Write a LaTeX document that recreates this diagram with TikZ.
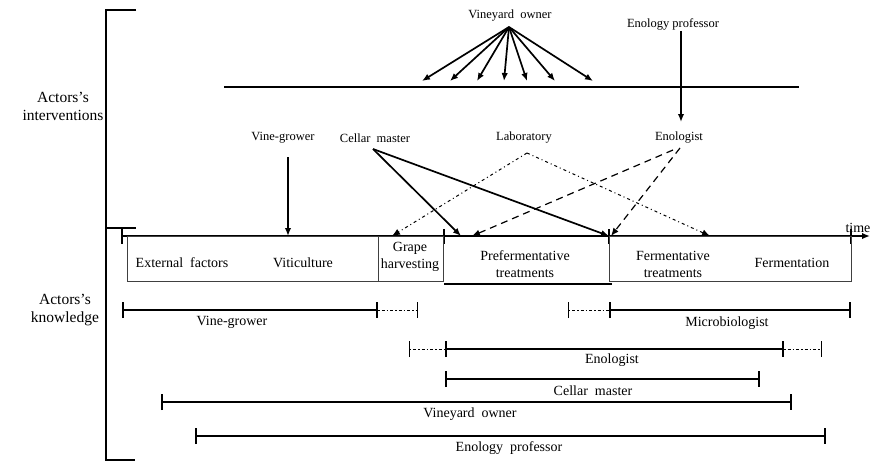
\documentclass[tikz,border=0pt]{standalone}
\usepackage{fontspec}
\setmainfont{Liberation Serif}
\usetikzlibrary{arrows.meta}
\begin{document}
\begin{tikzpicture}[x=1pt, y=-1pt, >={Latex[length=8pt,width=6.5pt]},
    actor/.style={font=\fontsize{12.5}{14}\selectfont, inner sep=1pt},
    phase/.style={font=\fontsize{14}{17}\selectfont, align=center, inner sep=0pt},
    side/.style={font=\fontsize{15.5}{18}\selectfont, align=center},
    bar/.style={line width=1.6pt, {Bar[width=16pt]}-{Bar[width=16pt]}},
    hint/.style={line width=0.9pt, dash pattern=on 1.5pt off 2pt on 3pt off 2pt},
    push/.style={line width=1.7pt, ->},
    labline/.style={line width=1pt, dash pattern=on 3pt off 3pt on 1pt off 3pt, ->},
    enoline/.style={line width=1.2pt, dash pattern=on 7pt off 5pt, ->}]
    \useasboundingbox (0,0) rectangle (879,461);
    \draw[line width=1.4pt]
        (136,10) -- (106,10) -- (106,460) -- (135,460)
        (106,228) -- (136,228);
    \node[side] (inter) at (63,106) {Actors’s\\interventions};
    \node[side] (know) at (65,310) {Actors’s\\knowledge};
    \draw[line width=1.6pt] (224,87) -- (799,87);
    \node[actor] (owner) at (510,16) {Vineyard\ \ owner};
    \coordinate (ownerFoot) at (509,27);
    \foreach \x [count=\i] in {422,450,477,504,527,555,593} {
        \coordinate (hit\i) at (\x,81);
        \draw[push] (ownerFoot) -- (hit\i);
    }
    \node[actor] (prof) at (673,24) {Enology professor};
    \node[actor] (grower) at (283,138) {Vine-grower};
    \node[actor] (cellar) at (375,138) {Cellar\ \ master};
    \node[actor] (lab) at (524,138) {Laboratory};
    \node[actor] (eno) at (679,138) {Enologist};
    \coordinate (growerFoot) at (288,157);
    \coordinate (cellarFoot) at (373,149);
    \coordinate (labFoot) at (527,153);
    \coordinate (enoFootA) at (673,150);
    \coordinate (enoFootB) at (680,148);
    \draw[push] (prof.south -| 681,0) -- (681,122);
    \draw[line width=1.6pt, ->] (122,236) -- (870,236);
    \node[phase] (time) at (858,228) {time};
    \foreach \x in {122,444,609,851}
        \draw[line width=1.3pt] (\x,229) -- (\x,244);
    \coordinate (vitic) at (288,236);
    \coordinate (harv) at (392,236);
    \coordinate (pre) at (461,236);
    \coordinate (preB) at (472,236);
    \coordinate (ferm) at (609,236);
    \coordinate (fermB) at (611,236);
    \coordinate (fermC) at (710,236);
    \draw[push] (growerFoot) -- (vitic);
    \draw[push] (cellarFoot) -- (pre);
    \draw[push] (cellarFoot) -- (ferm);
    \draw[labline] (labFoot) -- (harv);
    \draw[labline] (labFoot) -- (fermC);
    \draw[enoline] (enoFootA) -- (preB);
    \draw[enoline] (enoFootB) -- (fermB);
    \draw[line width=1pt, black!75]
        (127,236) rectangle (378,281)
        (378,236) rectangle (443,281)
        (609,236) rectangle (851,281);
    \draw[line width=1.4pt] (444,284) -- (612,284);
    \node[phase] (ext) at (182,263) {External\ \ factors};
    \node[phase] (viti) at (303,263) {Viticulture};
    \node[phase] (grape) at (410,257) {Grape\\harvesting};
    \node[phase] (prefer) at (525,264) {Prefermentative\\treatments};
    \node[phase] (fermt) at (673,264) {Fermentative\\treatments};
    \node[phase] (fermn) at (792,263) {Fermentation};
    \draw[bar] (122,310) -- (378,310);
    \draw[hint, -{Bar[width=16pt]}] (378,310) -- (418,310);
    \node[phase] (kGrower) at (232,322) {Vine-grower};
    \draw[hint, {Bar[width=16pt]}-] (568,310) -- (609,310);
    \draw[bar] (609,310) -- (851,310);
    \node[phase] (kMicro) at (727,323) {Microbiologist};
    \draw[hint, {Bar[width=16pt]}-] (409,349) -- (445,349);
    \draw[bar] (445,349) -- (784,349);
    \draw[hint, -{Bar[width=16pt]}] (784,349) -- (822,349);
    \node[phase] (kEno) at (612,360) {Enologist};
    \draw[bar] (445,379) -- (760,379);
    \node[phase] (kCellar) at (593,391) {Cellar\ \ master};
    \draw[bar] (161,402) -- (792,402);
    \node[phase] (kOwner) at (470,414) {Vineyard\ \ owner};
    \draw[bar] (195,436) -- (826,436);
    \node[phase] (kProf) at (509,448) {Enology\ \ professor};
\end{tikzpicture}
\end{document}
